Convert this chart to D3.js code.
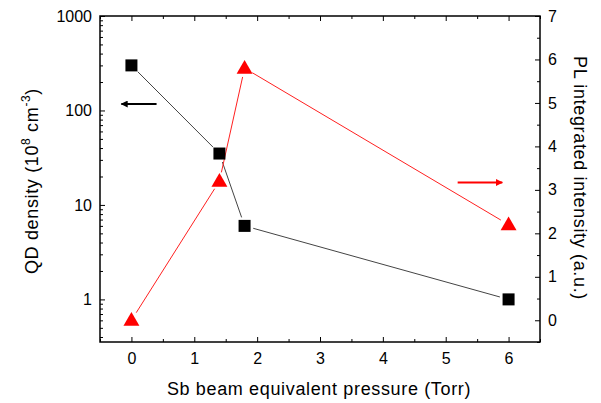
<!DOCTYPE html>
<html>
<head>
<meta charset="utf-8">
<script src="https://cdn.jsdelivr.net/npm/d3@7"></script>
<style>
  body { margin: 0; background: #fff; }
  text { font-family: "Liberation Sans", Arial, sans-serif; fill: #000; }
  .axis path, .axis line { stroke: #000; }
  .title { font-size: 18px; letter-spacing: 0.65px; }
</style>
</head>
<body>
<div id="chart"></div>
<script>
// data
var pressure = [0, 1.4, 1.8, 6];
var qdDensity = [300, 35, 6, 1];
var plIntensity = [0, 3.2, 5.8, 2.2];

var xTicks = [0, 1, 2, 3, 4, 5, 6];
var leftTicks = [1, 10, 100, 1000];
var rightTicks = [0, 1, 2, 3, 4, 5, 6, 7];

var svgWidth = 601;
var svgHeight = 403;
var margin = {top: 16, right: 61, bottom: 61, left: 100};
var width = svgWidth - margin.left - margin.right;
var height = svgHeight - margin.top - margin.bottom;

var svg = d3.select("#chart").append("svg")
  .attr("width", svgWidth)
  .attr("height", svgHeight);

var g = svg.append("g")
  .attr("transform", `translate(${margin.left}, ${margin.top})`);

var x = d3.scaleLinear().domain([-0.5, 6.5]).range([0, width]);
var yLeft = d3.scaleLog().domain([0.354, 1000]).range([height, 0]);
var yRight = d3.scaleLinear().domain([-0.5, 7]).range([height, 0]);

// minor ticks
var xMinor = d3.range(-0.5, 6.51, 0.5).filter(v => Math.abs(v - Math.round(v)) > 0.1);
var leftMinor = [];
[0.1, 1, 10, 100].forEach(function(d) {
  for (var k = 2; k <= 9; k++) {
    var v = d * k;
    if (v >= 0.354 && v <= 1000) leftMinor.push(v);
  }
});
var rightMinor = d3.range(-0.5, 7, 1);

function addAxis(axis, transform) {
  var a = g.append("g").attr("class", "axis").attr("transform", transform).call(axis);
  a.select(".domain").remove();
  a.selectAll("text").style("font-size", "16px");
  return a;
}

// bottom
addAxis(d3.axisBottom(x).tickValues(xTicks).tickSize(-5).tickPadding(11).tickFormat(d3.format("d")), `translate(0, ${height})`);
addAxis(d3.axisBottom(x).tickValues(xMinor).tickSize(-3).tickFormat(""), `translate(0, ${height})`);
// top
addAxis(d3.axisTop(x).tickValues(xTicks).tickSize(-5).tickFormat(""), "translate(0,0)");
addAxis(d3.axisTop(x).tickValues(xMinor).tickSize(-3).tickFormat(""), "translate(0,0)");
// left log
addAxis(d3.axisLeft(yLeft).tickValues(leftTicks).tickSize(-5).tickPadding(8).tickFormat(d3.format("d")), "translate(0,0)");
addAxis(d3.axisLeft(yLeft).tickValues(leftMinor).tickSize(-3).tickFormat(""), "translate(0,0)");
// right linear
addAxis(d3.axisRight(yRight).tickValues(rightTicks).tickSize(-5).tickPadding(8).tickFormat(d3.format("d")), `translate(${width},0)`);
addAxis(d3.axisRight(yRight).tickValues(rightMinor).tickSize(-3).tickFormat(""), `translate(${width},0)`);

// frame
g.append("rect")
  .attr("width", width)
  .attr("height", height)
  .attr("fill", "none")
  .attr("stroke", "#000")
  .attr("stroke-width", 1.5);

// lines with small gaps near the markers
function gappedSegments(pts, gap) {
  var segs = [];
  for (var i = 0; i < pts.length - 1; i++) {
    var a = pts[i], b = pts[i + 1];
    var dx = b[0] - a[0], dy = b[1] - a[1];
    var len = Math.sqrt(dx * dx + dy * dy);
    var ux = dx / len, uy = dy / len;
    segs.push([[a[0] + ux * gap, a[1] + uy * gap], [b[0] - ux * gap, b[1] - uy * gap]]);
  }
  return segs;
}

var qdPts = pressure.map((p, i) => [x(p), yLeft(qdDensity[i])]);
var plPts = pressure.map((p, i) => [x(p), yRight(plIntensity[i])]);

g.selectAll(".qdline")
  .data(gappedSegments(qdPts, 9))
  .enter().append("line")
  .attr("x1", d => d[0][0]).attr("y1", d => d[0][1])
  .attr("x2", d => d[1][0]).attr("y2", d => d[1][1])
  .attr("stroke", "#444").attr("stroke-width", 1);

g.selectAll(".plline")
  .data(gappedSegments(plPts, 9))
  .enter().append("line")
  .attr("x1", d => d[0][0]).attr("y1", d => d[0][1])
  .attr("x2", d => d[1][0]).attr("y2", d => d[1][1])
  .attr("stroke", "#ff2020").attr("stroke-width", 1);

// markers
g.selectAll(".sq")
  .data(pressure)
  .enter().append("rect")
  .attr("x", (d, i) => x(d) - 6)
  .attr("y", (d, i) => yLeft(qdDensity[i]) - 6)
  .attr("width", 12).attr("height", 12)
  .attr("fill", "#000");

g.selectAll(".tri")
  .data(pressure)
  .enter().append("path")
  .attr("d", d3.symbol().type(d3.symbolTriangle).size(110))
  .attr("transform", (d, i) => `translate(${x(d)}, ${yRight(plIntensity[i]) + 1})`)
  .attr("fill", "#ff0000");

// arrows
svg.append("defs").selectAll("marker")
  .data([["ahBlack", "#000"], ["ahRed", "#ff0000"]])
  .enter().append("marker")
  .attr("id", d => d[0])
  .attr("viewBox", "0 0 10 10")
  .attr("refX", 9).attr("refY", 5)
  .attr("markerWidth", 10).attr("markerHeight", 7)
  .attr("markerUnits", "userSpaceOnUse")
  .attr("orient", "auto")
  .append("path")
  .attr("d", "M0,0 L10,5 L0,10 Z")
  .attr("fill", d => d[1]);

g.append("line")
  .attr("x1", x(0.4)).attr("y1", yLeft(117))
  .attr("x2", x(-0.16)).attr("y2", yLeft(117))
  .attr("stroke", "#000").attr("stroke-width", 2)
  .attr("marker-end", "url(#ahBlack)");

g.append("line")
  .attr("x1", x(5.19)).attr("y1", yRight(3.17))
  .attr("x2", x(5.9)).attr("y2", yRight(3.17))
  .attr("stroke", "#ff0000").attr("stroke-width", 2)
  .attr("marker-end", "url(#ahRed)");

// axis titles
svg.append("text")
  .attr("class", "title")
  .attr("x", 319)
  .attr("y", 395)
  .attr("text-anchor", "middle")
  .text("Sb beam equivalent pressure (Torr)");

var leftTitle = svg.append("text")
  .attr("class", "title")
  .attr("transform", "translate(38, 181) rotate(-90)")
  .attr("text-anchor", "middle");
leftTitle.append("tspan").text("QD density (10");
leftTitle.append("tspan").attr("dy", -8).style("font-size", "12px").text("8");
leftTitle.append("tspan").attr("dy", 8).text(" cm");
leftTitle.append("tspan").attr("dy", -8).style("font-size", "12px").text("-3");
leftTitle.append("tspan").attr("dy", 8).text(")");

svg.append("text")
  .attr("class", "title")
  .attr("transform", "translate(574, 178) rotate(90)")
  .attr("text-anchor", "middle")
  .text("PL integrated intensity (a.u.)");
</script>
</body>
</html>
